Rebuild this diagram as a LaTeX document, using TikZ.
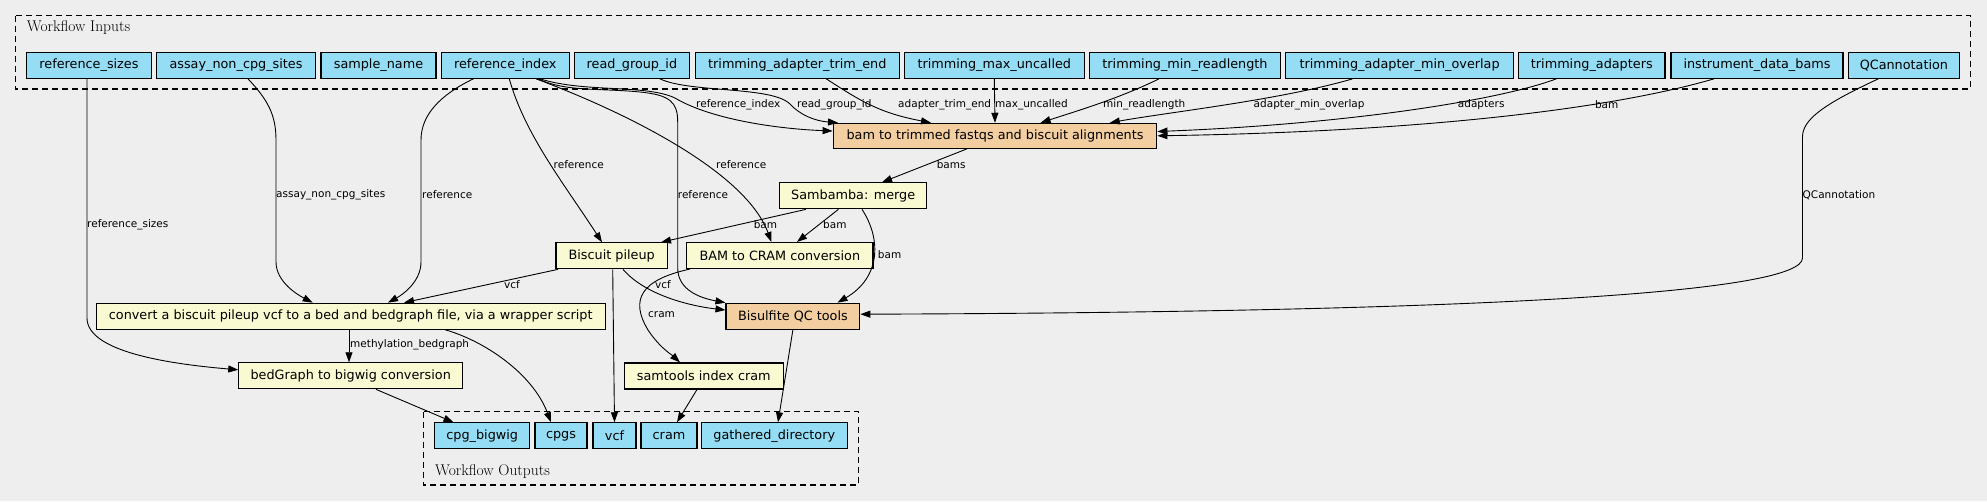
\documentclass[tikz,border=0pt]{standalone}
\usepackage{fontspec}
\newfontfamily\dv{DejaVu Sans}
\usetikzlibrary{arrows.meta}
\definecolor{bgc}{HTML}{EEEEEE}
\definecolor{inblue}{HTML}{94DDF4}
\definecolor{stepyel}{HTML}{FAFAD2}
\definecolor{suborg}{HTML}{F3CEA1}
\tikzset{
  box/.style={draw=black, line width=1.1pt, inner xsep=4pt, inner ysep=0pt, minimum height=26pt, font=\dv\fontsize{12.8}{15}\selectfont},
  io/.style={box, fill=inblue},
  stp/.style={box, fill=stepyel},
  sub/.style={box, fill=suborg},
  lbl/.style={anchor=west, inner sep=0pt, font=\dv\fontsize{10.5}{12}\selectfont},
  clab/.style={anchor=west, inner sep=0pt, font=\fontsize{15.5}{17}\selectfont},
  flow/.style={draw=black, line width=0.9pt, -{Triangle[length=10pt,width=7pt]}},
  cluster/.style={draw=black, line width=1.1pt, dash pattern=on 6pt off 4pt},
}
\begin{document}
\begin{tikzpicture}[x=1pt,y=-1pt]
\fill[bgc] (0,0) rectangle (1987,501);
\useasboundingbox (0,0) rectangle (1987,501);
% clusters
\draw[cluster] (15.6,15.7) rectangle (1970.3,89);
\node[clab] (inlab) at (26.8,27.5) {Workflow Inputs};
\draw[cluster] (423.6,411.7) rectangle (858.7,485);
\node[clab] (outlab) at (435,472) {Workflow Outputs};
% inputs
\node[io, minimum width=124.5pt] (rs) at (89,65.3) {reference\_sizes};
\node[io, minimum width=159.3pt] (anc) at (236,65.3) {assay\_non\_cpg\_sites};
\node[io, minimum width=115pt] (sn) at (378.5,65.3) {sample\_name};
\node[io, minimum width=127.5pt] (ri) at (505.3,65.3) {reference\_index};
\node[io, minimum width=115.7pt] (rg) at (631.9,65.3) {read\_group\_id};
\node[io, minimum width=203.5pt] (tate) at (797.3,65.3) {trimming\_adapter\_trim\_end};
\node[io, minimum width=179.5pt] (tmu) at (994.3,65.3) {trimming\_max\_uncalled};
\node[io, minimum width=190.6pt] (tmr) at (1185,65.3) {trimming\_min\_readlength};
\node[io, minimum width=227.7pt] (tamo) at (1399.6,65.3) {trimming\_adapter\_min\_overlap};
\node[io, minimum width=146.4pt] (ta) at (1591.8,65.3) {trimming\_adapters};
\node[io, minimum width=172pt] (idb) at (1757,65.3) {instrument\_data\_bams};
\node[io, minimum width=110.8pt] (qca) at (1903.9,65.3) {QCannotation};
% steps
\node[sub, minimum width=323.7pt, minimum height=25pt] (btf) at (995,135.8) {bam to trimmed fastqs and biscuit alignments};
\node[stp, minimum width=147.3pt] (sm) at (853.2,195.8) {Sambamba: merge};
\node[stp, minimum width=111.4pt] (bp) at (611.7,255.8) {Biscuit pileup};
\node[stp, minimum width=186.4pt] (b2c) at (779.8,255.5) {BAM to CRAM conversion};
\node[stp, minimum width=509.3pt] (cv) at (350.7,316.2) {convert a biscuit pileup vcf to a bed and bedgraph file, via a wrapper script};
\node[sub, minimum width=133.8pt] (bqc) at (792.9,316.2) {Bisulfite QC tools};
\node[stp, minimum width=223.8pt] (bdg) at (350.7,375.8) {bedGraph to bigwig conversion};
\node[stp, minimum width=159.5pt] (sti) at (703.8,376) {samtools index cram};
% outputs
\node[io, minimum width=95.3pt] (ocb) at (482.2,435.8) {cpg\_bigwig};
\node[io, minimum width=52pt] (ocp) at (561,435.8) {cpgs};
\node[io, minimum width=43pt] (ovcf) at (614.5,435.8) {vcf};
\node[io, minimum width=56pt] (ocr) at (669,435.8) {cram};
\node[io, minimum width=145.8pt] (ogd) at (774.3,435.8) {gathered\_directory};
% edges
\draw[flow] ([xshift=-2pt]rs.south) -- (87,318) .. controls (87,352) and (170,364) .. ([yshift=6pt]bdg.west);
\draw[flow] ([xshift=12pt]anc.south) .. controls (268,100) and (276,115) .. (276,140) -- (276,262) .. controls (276,282) and (298,295) .. ([xshift=-38pt]cv.north);
\draw[flow] ([xshift=-32pt]ri.south) .. controls (440,95) and (421,115) .. (421,140) -- (421,262) .. controls (421,282) and (402,295) .. ([xshift=37.3pt]cv.north);
\draw[flow] ([xshift=4pt]ri.south) .. controls (525,135) and (565,185) .. ([xshift=-9.7pt]bp.north);
\draw[flow] ([xshift=30.7pt]ri.south) .. controls (620,110) and (745,170) .. ([xshift=-8.4pt]b2c.north);
\draw[flow] ([xshift=33pt]ri.south) .. controls (565,92) and (600,88) .. (640,92) .. controls (670,95) and (677.7,102) .. (677.7,122) -- (677.7,268) .. controls (677.7,290) and (700,298) .. (bqc.north west);
\draw[flow] ([xshift=34.7pt]ri.south) .. controls (585,93) and (645,84) .. (675,98) .. controls (712,120) and (780,129) .. ([yshift=4.8pt]btf.west);
\draw[flow] ([xshift=28pt]rg.south) .. controls (690,93) and (772,86) .. (790,104) .. controls (800,115) and (815,121) .. ([xshift=-157pt]btf.north);
\draw[flow] ([xshift=29pt]tate.south) .. controls (862,102) and (880,113) .. ([xshift=-64pt]btf.north);
\draw[flow] (tmu.south) -- (btf.north);
\draw[flow] ([xshift=-26pt]tmr.south) .. controls (1120,98) and (1080,110) .. ([xshift=45.6pt]btf.north);
\draw[flow] ([xshift=-47pt]tamo.south) .. controls (1280,100) and (1170,112) .. ([xshift=114.8pt]btf.north);
\draw[flow] ([xshift=-35.5pt]ta.south) .. controls (1500,100) and (1350,124) .. ([yshift=4.3pt]btf.east);
\draw[flow] ([xshift=-43pt]idb.south) .. controls (1600,112) and (1400,132) .. (btf.east);
\draw[flow] ([xshift=-25.6pt]qca.south) .. controls (1822,105) and (1802.5,120) .. (1802.5,137) -- (1802.5,258) .. controls (1802.5,292) and (1500,312) .. ([yshift=2pt]bqc.east);
\draw[flow] ([xshift=-28pt]btf.south) -- ([xshift=28.8pt]sm.north);
\draw[flow] ([xshift=-47.2pt]sm.south) -- ([xshift=49.3pt]bp.north);
\draw[flow] ([xshift=-14.8pt]sm.south) -- ([xshift=17.2pt]b2c.north);
\draw[flow] ([xshift=8.8pt]sm.south) .. controls (882,240) and (880,278) .. ([xshift=44.6pt]bqc.north);
\draw[flow] ([xshift=-53.7pt]bp.south) -- ([xshift=53.3pt]cv.north);
\draw[flow] ([xshift=11.3pt]bp.south) .. controls (645,295) and (690,306) .. ([yshift=6.2pt]bqc.west);
\draw[flow] ([xshift=1pt]bp.south) -- (ovcf.north);
\draw[flow] ([xshift=-89.8pt]b2c.south) .. controls (640,280) and (630,300) .. (648,330) .. controls (660,348) and (672,355) .. ([xshift=-23.8pt]sti.north);
\draw[flow] ([xshift=-1.7pt]cv.south) -- ([xshift=-1.7pt]bdg.north);
\draw[flow] ([xshift=94.3pt]cv.south) .. controls (482,340) and (532,372) .. ([xshift=-10pt]ocp.north);
\draw[flow] ([xshift=25.3pt]bdg.south) -- ([xshift=-28.7pt]ocb.north);
\draw[flow] ([xshift=-6.8pt]sti.south) -- ([xshift=8pt]ocr.north);
\draw[flow] (bqc.south) -- ([xshift=3.7pt]ogd.north);
% edge labels
\node[lbl] (l1) at (87,225) {reference\_sizes};
\node[lbl] (l2) at (276,195) {assay\_non\_cpg\_sites};
\node[lbl] (l3) at (422,195) {reference};
\node[lbl] (l4) at (553.5,165) {reference};
\node[lbl] (l5) at (716,165) {reference};
\node[lbl] (l6) at (677.7,195) {reference};
\node[lbl] (l7) at (696,105) {reference\_index};
\node[lbl] (l8) at (797,105) {read\_group\_id};
\node[lbl] (l9) at (898,105) {adapter\_trim\_end};
\node[lbl] (l10) at (995,105) {max\_uncalled};
\node[lbl] (l11) at (1103,105) {min\_readlength};
\node[lbl] (l12) at (1253.5,105) {adapter\_min\_overlap};
\node[lbl] (l13) at (1457.7,105) {adapters};
\node[lbl] (l14) at (1594.8,105) {bam};
\node[lbl] (l15) at (1802.5,195) {QCannotation};
\node[lbl] (l16) at (936.6,165) {bams};
\node[lbl] (l17) at (753.6,224.3) {bam};
\node[lbl] (l18) at (823,224.3) {bam};
\node[lbl] (l19) at (877.7,255) {bam};
\node[lbl] (l20) at (504,285) {vcf};
\node[lbl] (l21) at (655,285) {vcf};
\node[lbl] (l22) at (648,315) {cram};
\node[lbl] (l23) at (350,345) {methylation\_bedgraph};
\end{tikzpicture}
\end{document}
